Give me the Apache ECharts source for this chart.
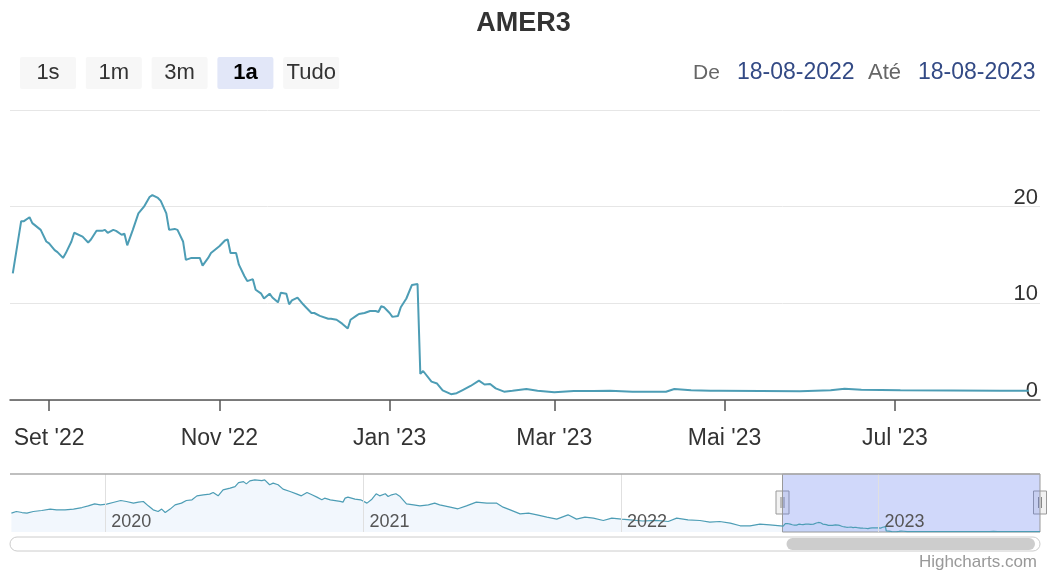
<!DOCTYPE html>
<html><head><meta charset="utf-8">
<script src="https://cdn.jsdelivr.net/npm/echarts@6/dist/echarts.min.js"></script>
<style>html,body{margin:0;padding:0;background:#fff}#c{width:1047px;height:570px}</style>
</head><body><div id="c"></div>
<script>
const chartTitle = 'AMER3';
const rangeButtons = ['1s', '1m', '3m', '1a', 'Tudo'];
const selectedButton = '1a';
const rangeWords = ['De', 'Até'];
const rangeDates = ['18-08-2022', '18-08-2023'];
const creditsText = 'Highcharts.com';

const viewStart = '2022-08-18';
const viewEnd = '2023-08-18';

const xTickDates = ['2022-09-01', '2022-11-01', '2023-01-01', '2023-03-01', '2023-05-01', '2023-07-01'];
const xTickLabels = ["Set '22", "Nov '22", "Jan '23", "Mar '23", "Mai '23", "Jul '23"];
const yTickValues = [0, 10, 20, 30];

const navYearDates = ['2020-01-01', '2021-01-01', '2022-01-01', '2023-01-01'];
const navYearLabels = ['2020', '2021', '2022', '2023'];

// main (1 year) series
const mainDates = [
  '2022-08-19','2022-08-22','2022-08-23','2022-08-25','2022-08-26','2022-08-29','2022-08-31',
  '2022-09-01','2022-09-03','2022-09-04','2022-09-06','2022-09-07','2022-09-09','2022-09-10','2022-09-13','2022-09-15','2022-09-16','2022-09-18','2022-09-20','2022-09-21','2022-09-22','2022-09-24','2022-09-25','2022-09-27','2022-09-28','2022-09-29',
  '2022-10-01','2022-10-03','2022-10-05','2022-10-07','2022-10-08','2022-10-10','2022-10-11','2022-10-13','2022-10-14','2022-10-16','2022-10-17','2022-10-19','2022-10-20','2022-10-22','2022-10-23','2022-10-25','2022-10-26','2022-10-28','2022-10-29',
  '2022-11-01','2022-11-03','2022-11-04','2022-11-05','2022-11-07','2022-11-08','2022-11-10','2022-11-11','2022-11-13','2022-11-14','2022-11-16','2022-11-17','2022-11-19','2022-11-20','2022-11-22','2022-11-23','2022-11-25','2022-11-26','2022-11-27','2022-11-29',
  '2022-12-01','2022-12-02','2022-12-04','2022-12-05','2022-12-07','2022-12-10','2022-12-11','2022-12-13','2022-12-15','2022-12-17','2022-12-18','2022-12-20','2022-12-21','2022-12-23','2022-12-25','2022-12-27','2022-12-28','2022-12-29','2022-12-30',
  '2023-01-01','2023-01-02','2023-01-04','2023-01-05','2023-01-07','2023-01-09','2023-01-11','2023-01-12','2023-01-13','2023-01-16','2023-01-18','2023-01-20','2023-01-23','2023-01-25','2023-01-27','2023-01-30',
  '2023-02-02','2023-02-04','2023-02-06','2023-02-08','2023-02-11','2023-02-14','2023-02-19','2023-02-23',
  '2023-03-01','2023-03-08','2023-03-15','2023-03-21','2023-03-29',
  '2023-04-06','2023-04-10','2023-04-13','2023-04-19','2023-04-26','2023-04-29',
  '2023-05-14','2023-05-28',
  '2023-06-08','2023-06-13','2023-06-19',
  '2023-07-03','2023-07-21',
  '2023-08-08','2023-08-18'
];
const mainValues = [
  13.1,18.5,18.5,18.9,18.3,17.6,16.4,
  16.2,15.5,15.3,14.7,15.2,16.4,17.3,16.9,16.3,16.6,17.5,17.5,17.6,17.3,17.6,17.5,17.1,17.2,16.0,
  17.6,19.3,20.0,21.0,21.2,20.9,20.6,19.3,17.6,17.7,17.6,16.4,14.5,14.7,14.7,14.7,13.9,14.7,15.2,
  15.9,16.5,16.6,15.2,15.2,14.0,12.8,12.3,12.5,11.4,11.0,10.5,11.0,10.6,10.1,11.1,11.0,9.9,10.3,10.6,
  9.9,9.6,9.0,9.0,8.7,8.4,8.4,8.3,7.9,7.4,8.3,8.7,8.9,9.0,9.2,9.2,9.1,9.7,9.6,
  9.0,8.6,8.7,9.6,10.5,11.9,12.0,2.7,3.0,1.9,1.7,1.0,0.6,0.7,1.0,1.45,
  2.0,1.6,1.65,1.2,0.86,0.96,1.14,0.96,
  0.8,0.93,0.93,0.96,0.86,
  0.86,0.86,1.14,1.0,0.96,0.96,
  0.93,0.9,
  1.0,1.17,1.05,
  1.0,0.97,
  0.95,0.96
];

// older history shown only in the navigator
const historyDates = [
  '2019-08-21','2019-08-28','2019-09-05','2019-09-12','2019-09-21','2019-10-03','2019-10-15','2019-10-24','2019-11-05','2019-11-17','2019-11-29','2019-12-08','2019-12-17','2019-12-25',
  '2020-01-03','2020-01-12','2020-01-23','2020-01-31','2020-02-10','2020-02-17','2020-02-24','2020-03-02','2020-03-09','2020-03-16','2020-03-21','2020-03-26','2020-04-02','2020-04-09','2020-04-18','2020-04-25',
  '2020-05-03','2020-05-10','2020-05-19','2020-05-28','2020-06-02','2020-06-09','2020-06-16','2020-06-26','2020-07-03','2020-07-08','2020-07-15','2020-07-19','2020-07-24','2020-07-31',
  '2020-08-10','2020-08-14','2020-08-21','2020-08-26','2020-09-02','2020-09-09','2020-09-19','2020-09-28','2020-10-05','2020-10-13','2020-10-20','2020-10-27',
  '2020-11-03','2020-11-07','2020-11-15','2020-11-29','2020-12-03','2020-12-06','2020-12-10','2020-12-20','2020-12-28',
  '2021-01-06','2021-01-13','2021-01-19','2021-01-24','2021-02-01','2021-02-05','2021-02-10','2021-02-16','2021-02-22','2021-03-03','2021-03-13','2021-03-22',
  '2021-04-03','2021-04-12','2021-04-19','2021-05-04','2021-05-15','2021-05-27','2021-06-10','2021-06-25','2021-07-09','2021-07-18','2021-07-28',
  '2021-08-11','2021-08-23','2021-09-04','2021-09-18','2021-10-02','2021-10-18','2021-10-30','2021-11-11','2021-11-23','2021-12-07','2021-12-19',
  '2022-01-02','2022-01-14','2022-02-01','2022-02-20','2022-03-09','2022-03-21','2022-04-06','2022-04-23','2022-05-07','2022-05-21','2022-06-05','2022-06-19','2022-07-03','2022-07-17','2022-07-31'
];
const historyValues = [
  42,45.6,43.3,42,45.6,47.8,50.9,49.3,49.3,50.9,54.4,58.2,62.7,60.4,
  62,65.6,70,67.8,64.2,66.4,67.8,58.2,49.3,45.6,50.9,43.3,50.9,60.4,64.2,70,
  71.6,80.4,82.7,84.2,87.8,80.4,93.8,97.6,101,110,112,107,113.8,116,
  114.4,116,105,108.7,105,95.3,90,84.9,80.4,87.8,82.7,77.6,
  71.6,75.3,71.6,68,66.4,75.3,77.6,73,71.6,
  64.2,73,85,80.4,85,78.9,82.7,85,78.9,62.7,60.4,58.2,
  60.4,64.2,60.4,55.3,51.6,58.2,66.4,64.2,64.2,55.3,49.3,
  40.4,42,38.2,33.1,28.7,38.2,28.7,33.1,30.9,25.6,30.9,
  28.7,27.1,24.5,26,23.3,30.9,27.1,25.6,22,23.3,19.8,13.8,13.8,17.6,16
];

function ts(s) { const p = s.split('-').map(Number); return Date.UTC(p[0], p[1] - 1, p[2]); }

const lineColor = '#4d9db5';
const FONT = '"Liberation Sans", Arial, Helvetica, sans-serif';

const xTickTimes = xTickDates.map(ts);
const navYearTimes = navYearDates.map(ts);
const mainData = mainDates.map((d, i) => [ts(d), mainValues[i]]);
const navData = historyDates.map((d, i) => [ts(d), historyValues[i]]).concat(mainData);

const DAY = 86400000;
const mainMaxTime = ts(viewEnd) + 4 * DAY; // small right padding like the original axis
const navMin = ts('2019-08-19');
const navMax = ts(viewEnd);

const option = {
  animation: false,
  backgroundColor: '#ffffff',
  textStyle: { fontFamily: FONT },
  title: {
    text: chartTitle, left: 'center', top: 5,
    textStyle: { fontFamily: FONT, fontSize: 27, fontWeight: 'bold', color: '#333333' }
  },
  grid: [
    { left: 10, right: 7, top: 110, height: 290, containLabel: false },
    { left: 10, right: 7, top: 474, height: 58, containLabel: false }
  ],
  xAxis: [
    {
      type: 'value', gridIndex: 0, min: ts(viewStart), max: mainMaxTime, scale: true,
      axisLine: { show: true, lineStyle: { color: '#555555', width: 1.5 } },
      axisTick: { show: true, length: 11, customValues: xTickTimes, lineStyle: { color: '#555555', width: 1.5 } },
      splitLine: { show: false },
      axisLabel: {
        customValues: xTickTimes, margin: 27, fontSize: 23, color: '#333333', fontFamily: FONT,
        hideOverlap: false, showMinLabel: true, showMaxLabel: true,
        formatter: v => { const i = xTickTimes.indexOf(v); return i >= 0 ? xTickLabels[i] : ''; }
      }
    },
    {
      type: 'value', gridIndex: 1, min: navMin, max: navMax, scale: true, z: 5,
      axisLine: { show: false },
      axisTick: { show: false, customValues: navYearTimes },
      splitLine: { show: true, lineStyle: { color: '#e0e0e0', width: 1 } },
      axisLabel: {
        customValues: navYearTimes, inside: true, margin: 1, fontSize: 18, color: '#555555', fontFamily: FONT,
        align: 'left', padding: [0, 0, 0, 6], hideOverlap: false,
        formatter: v => { const i = navYearTimes.indexOf(v); return i >= 0 ? navYearLabels[i] : ''; }
      }
    }
  ],
  yAxis: [
    {
      type: 'value', gridIndex: 0, position: 'right', min: yTickValues[0], max: yTickValues[yTickValues.length - 1], interval: 10,
      axisLine: { show: false }, axisTick: { show: false },
      splitLine: { show: true, lineStyle: { color: '#e6e6e6', width: 1 } },
      axisLabel: {
        inside: true, margin: 2, align: 'right', verticalAlign: 'bottom', lineHeight: 18,
        fontSize: 22, color: '#333333', fontFamily: FONT, showMaxLabel: false
      }
    },
    {
      type: 'value', gridIndex: 1, min: 0, max: 129, show: false,
      splitLine: { show: false }
    }
  ],
  series: [
    {
      type: 'line', xAxisIndex: 0, yAxisIndex: 0, data: mainData,
      showSymbol: false, symbol: 'none', clip: true,
      lineStyle: { color: lineColor, width: 2 }
    },
    {
      type: 'line', xAxisIndex: 1, yAxisIndex: 1, data: navData, z: 2,
      showSymbol: false, symbol: 'none', clip: true,
      lineStyle: { color: lineColor, width: 1.2 },
      areaStyle: { color: 'rgba(124,181,236,0.1)', opacity: 1 },
      markArea: {
        silent: true,
        itemStyle: { color: 'rgba(100,125,240,0.3)', borderColor: '#999999', borderWidth: 1 },
        data: [[{ xAxis: ts(viewStart) }, { xAxis: navMax }]]
      }
    }
  ]
};

const chart = echarts.init(document.getElementById('c'), null, { renderer: 'canvas' });
chart.setOption(option);

const mx0 = chart.convertToPixel({ xAxisIndex: 1 }, ts(viewStart));
const mx1 = chart.convertToPixel({ xAxisIndex: 1 }, navMax);

const graphics = [];
// range selector buttons
rangeButtons.forEach((b, i) => {
  const sel = b === selectedButton;
  const x = 20 + i * 65.8;
  graphics.push({ type: 'rect', shape: { x: x, y: 57, width: 56, height: 32, r: 2 },
    style: { fill: sel ? '#e2e7f8' : '#f7f7f7' }, silent: true });
  graphics.push({ type: 'text', x: x + 28, y: 73,
    style: { text: b, font: (sel ? 'bold ' : '') + '22px ' + FONT, fill: sel ? '#000000' : '#333333',
      textAlign: 'center', textVerticalAlign: 'middle' }, silent: true });
});
// date range inputs
graphics.push({ type: 'text', x: 693, y: 73, style: { text: rangeWords[0], font: '21px ' + FONT, fill: '#666666', textAlign: 'left', textVerticalAlign: 'middle' } });
graphics.push({ type: 'text', x: 737, y: 73, style: { text: rangeDates[0], font: '23px ' + FONT, fill: '#334a85', textAlign: 'left', textVerticalAlign: 'middle' } });
graphics.push({ type: 'text', x: 868, y: 73, style: { text: rangeWords[1], font: '22px ' + FONT, fill: '#666666', textAlign: 'left', textVerticalAlign: 'middle' } });
graphics.push({ type: 'text', x: 918, y: 73, style: { text: rangeDates[1], font: '23px ' + FONT, fill: '#334a85', textAlign: 'left', textVerticalAlign: 'middle' } });
// navigator outline top
graphics.push({ type: 'line', shape: { x1: 10, y1: 474, x2: 1040, y2: 474 }, style: { stroke: '#aaaaaa', lineWidth: 1.5 }, z: 10 });
// navigator handles
[mx0, mx1].forEach(hx => {
  graphics.push({ type: 'group', x: hx, y: 491, z: 20, children: [
    { type: 'rect', shape: { x: -6.5, y: 0, width: 13, height: 23 }, style: { fill: '#f2f2f2', stroke: '#999999', lineWidth: 1 } },
    { type: 'line', shape: { x1: -1.5, y1: 6, x2: -1.5, y2: 17 }, style: { stroke: '#888888', lineWidth: 1 } },
    { type: 'line', shape: { x1: 1.5, y1: 6, x2: 1.5, y2: 17 }, style: { stroke: '#888888', lineWidth: 1 } }
  ]});
});
// scrollbar
graphics.push({ type: 'rect', shape: { x: 10, y: 537, width: 1030, height: 14, r: 7 }, style: { fill: '#ffffff', stroke: '#cccccc', lineWidth: 1 } });
graphics.push({ type: 'rect', shape: { x: mx0 + 4, y: 538, width: (mx1 - 5) - (mx0 + 4), height: 12, r: 6 }, style: { fill: '#cdcdcd' } });
// credits
graphics.push({ type: 'text', x: 1037, y: 562, style: { text: creditsText, font: '17px ' + FONT, fill: '#999999', textAlign: 'right', textVerticalAlign: 'middle' } });

chart.setOption({ graphic: graphics });
</script>
</body></html>
